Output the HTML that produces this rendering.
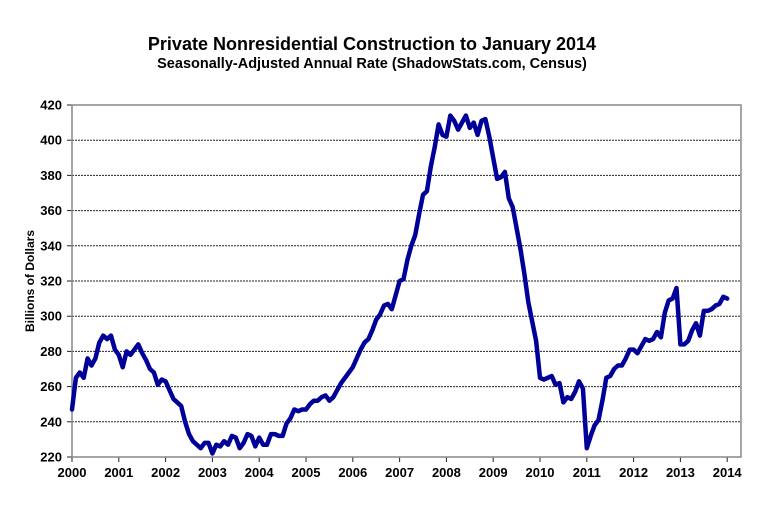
<!DOCTYPE html>
<html><head><meta charset="utf-8"><style>
body{margin:0;background:#fff;width:765px;height:506px;overflow:hidden;font-family:"Liberation Sans",Arial,sans-serif}
</style></head><body>
<svg id="s" width="765" height="506" xmlns="http://www.w3.org/2000/svg" font-family="Liberation Sans, Arial, sans-serif">
<text x="372" y="50" text-anchor="middle" font-size="18" font-weight="bold">Private Nonresidential Construction to January 2014</text>
<text x="372" y="68" text-anchor="middle" font-size="14.5" font-weight="bold">Seasonally-Adjusted Annual Rate (ShadowStats.com, Census)</text>
<text transform="translate(34,281) rotate(-90)" text-anchor="middle" font-size="12" font-weight="bold">Billions  of Dollars</text>
<g id="grid"></g>
<rect x="72" y="105" width="669" height="352" fill="none" stroke="#888" stroke-width="1.5"/>
<path id="line" fill="none" stroke="#000099" stroke-width="4.5" stroke-linejoin="round" stroke-linecap="round"/>
</svg>
<script>
var s=document.getElementById('s'),g=document.getElementById('grid'),NS='http://www.w3.org/2000/svg';
function el(t,a,txt){var e=document.createElementNS(NS,t);for(var k in a)e.setAttribute(k,a[k]);if(txt!=null)e.textContent=txt;return e;}
function X(t){return 72+(t-2000)*46.8;}function Y(v){return 457-(v-220)*1.76;}
for(var v=220;v<=420;v+=20){var y=Y(v);if(v>220&&v<420)g.appendChild(el('line',{x1:72,x2:741,y1:y,y2:y,stroke:'#222','stroke-width':1,'stroke-dasharray':'2,1'}));
g.appendChild(el('line',{x1:67,x2:72,y1:y,y2:y,stroke:'#222'}));
g.appendChild(el('text',{x:62,y:y+4.5,'text-anchor':'end','font-size':13,'font-weight':'bold'},v));}
for(var yr=2000;yr<=2014;yr++){var x=X(yr);g.appendChild(el('line',{x1:x,x2:x,y1:457,y2:462,stroke:'#222'}));
g.appendChild(el('text',{x:x,y:477,'text-anchor':'middle','font-size':13,'font-weight':'bold'},yr));}
var d=[247,265,268,265,276,272,276,285,289,287,289,281,278,271,280,278,281,284,279,275,270,268,261,264,263,258,253,251,249,240,233,229,227,225,228,228,222,227,226,229,227,232,231,225,228,233,232,226,231,227,227,233,233,232,232,239,242,247,246,247,247,250,252,252,254,255,252,254,258,262,265,268,271,276,281,285,287,292,298,301,306,307,304,312,320,321,332,340,346,358,369,371,385,396,409,403,402,414,411,406,410,414,407,410,403,411,412,402,390,378,379,382,367,362,350,338,324,308,297,286,265,264,265,266,261,262,251,254,253,257,263,259,225,232,238,241,252,265,266,270,272,272,276,281,281,279,283,287,286,287,291,288,302,309,310,316,284,284,286,292,296,289,303,303,304,306,307,311,310];
var p='';for(var i=0;i<d.length;i++)p+=(i?'L':'M')+X(2000+i/12).toFixed(1)+' '+Y(d[i]).toFixed(1);
document.getElementById('line').setAttribute('d',p);
</script>
</body></html>
